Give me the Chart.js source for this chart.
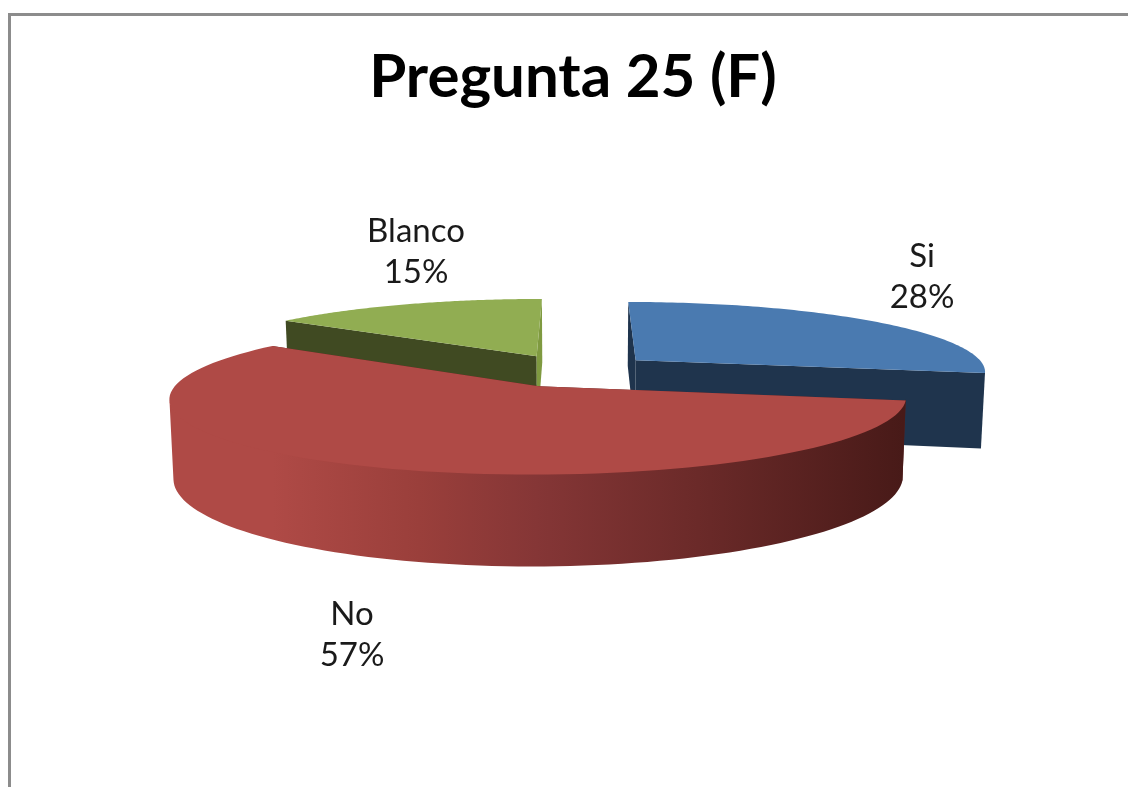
<!DOCTYPE html>
<html><head><meta charset="utf-8">
<style>html,body{margin:0;padding:0;background:#fff;overflow:hidden}
#w{position:relative;width:1128px;height:787px}canvas{display:block;filter:blur(0.55px)}</style>
<script src="https://cdn.jsdelivr.net/npm/chart.js@4"></script></head>
<body><div id="w"><canvas id="c" width="1128" height="787"></canvas></div>
<script>
const categories = ["Si", "No", "Blanco"];
const values = [28, 57, 15];
const titleText = "Pregunta 25 (F)";

const topColors = ["#4A7AB0", "#AF4A46", "#91AD52"];
const startCutColors = ["#1F344D", "#5A2220", "#404A22"];
const endCutColors = ["#1F344D", "#5A2220", "#7F9A40"];
const labelCentres = [[922, 276], [352, 634], [416, 251]];

const K = 0.1986, P = 0.000428, DEPTH = 75, SHRINK = 0.99, STEPS = 96, VANISH = 5;

function project(cx, cy, u, v, low) {
  const s = 1 / (1 - P * v);
  const x = cx + VANISH + (u - VANISH) * s * (low ? SHRINK : 1);
  const y = cy + K * v * s + (low ? DEPTH * s : 0);
  return [x, y];
}

const pie3d = {
  id: "pie3d",
  beforeDatasetDraw(chart, args) {
    const ctx = chart.ctx;
    const meta = chart.getDatasetMeta(args.index);
    const order = meta.data.map((arc, i) => i).sort((a, b) => {
      const m = arc => Math.sin((arc.startAngle + arc.endAngle) / 2);
      return m(meta.data[a]) - m(meta.data[b]);
    });
    for (const i of order) {
      const arc = meta.data[i];
      const mid = (arc.startAngle + arc.endAngle) / 2;
      const off = arc.options.offset;
      const ax = off * Math.cos(mid), ay = off * Math.sin(mid);
      const R = arc.outerRadius, cx = arc.x, cy = arc.y;
      const rim = (t, low) => project(cx, cy, ax + R * Math.cos(t), ay + R * Math.sin(t), low);
      const apex = low => project(cx, cy, ax, ay, low);
      const poly = (pts, fill) => {
        ctx.beginPath();
        pts.forEach((p, j) => j ? ctx.lineTo(p[0], p[1]) : ctx.moveTo(p[0], p[1]));
        ctx.closePath();
        ctx.fillStyle = fill;
        ctx.fill();
      };
      const sweep = (a, b) => {
        const out = [];
        for (let n = 0; n <= STEPS; n++) out.push(a + (b - a) * n / STEPS);
        return out;
      };

      // radial cut faces
      poly([apex(false), rim(arc.startAngle, false), rim(arc.startAngle, true), apex(true)], startCutColors[i]);
      poly([apex(false), rim(arc.endAngle, false), rim(arc.endAngle, true), apex(true)], endCutColors[i]);

      // outer wall: the run of the rim that faces the viewer (x falls as the angle grows)
      const a = Math.max(arc.startAngle, 0), b = Math.min(arc.endAngle, Math.PI);
      if (b > a) {
        let front = sweep(a, b);
        const xs = front.map(t => rim(t, false)[0]);
        const iMax = xs.indexOf(Math.max(...xs));
        front = front.slice(iMax);
        const rest = xs.slice(iMax);
        front = front.slice(0, rest.indexOf(Math.min(...rest)) + 1);
        let wallFill = startCutColors[i];
        if (i === 1) {
          const g = ctx.createLinearGradient(170, 0, 903, 0);
          g.addColorStop(0, "#AF4A46");
          g.addColorStop(0.14, "#AF4A46");
          g.addColorStop(0.34, "#9A3F3B");
          g.addColorStop(0.5, "#853636");
          g.addColorStop(0.72, "#6B2A29");
          g.addColorStop(1, "#481A18");
          wallFill = g;
        }
        const upper = front.map(t => { const p = rim(t, false); return [p[0], p[1] - 1.5]; });
        const lower = front.slice().reverse().map(t => rim(t, true));
        poly(upper.concat(lower), wallFill);
      }

      // top face
      poly([apex(false)].concat(sweep(arc.startAngle, arc.endAngle).map(t => rim(t, false))), topColors[i]);
    }
    return false;
  },
  afterDatasetsDraw(chart) {
    const ctx = chart.ctx;
    const total = values.reduce((a, b) => a + b, 0);
    ctx.save();
    ctx.font = '400 33px "Lato"';
    ctx.fillStyle = "#1a1a1a";
    ctx.textAlign = "center";
    ctx.textBaseline = "middle";
    categories.forEach((name, i) => {
      const [x, y] = labelCentres[i];
      ctx.fillText(name, x, y - 20);
      ctx.fillText(Math.round(values[i] / total * 100) + "%", x, y + 21);
    });
    ctx.restore();
  },
  afterDraw(chart) {
    const ctx = chart.ctx;
    ctx.save();
    ctx.fillStyle = "#8C8C8C";
    ctx.fillRect(8, 13, 1120, 3);
    ctx.fillRect(8, 13, 3, 774);
    ctx.restore();
  }
};

new Chart(document.getElementById("c"), {
  type: "pie",
  data: {
    labels: categories,
    datasets: [{ data: values, backgroundColor: topColors, borderWidth: 0, offset: 83 }]
  },
  options: {
    responsive: false,
    animation: false,
    radius: 352,
    layout: { padding: { left: 18, bottom: 160 } },
    plugins: {
      legend: { display: false },
      tooltip: { enabled: false },
      title: {
        display: true,
        text: titleText,
        color: "#000",
        font: { family: "Lato", size: 60, weight: "bold", lineHeight: 1.2 },
        padding: { top: 42, bottom: 0 }
      }
    }
  },
  plugins: [pie3d]
});
</script></body></html>
